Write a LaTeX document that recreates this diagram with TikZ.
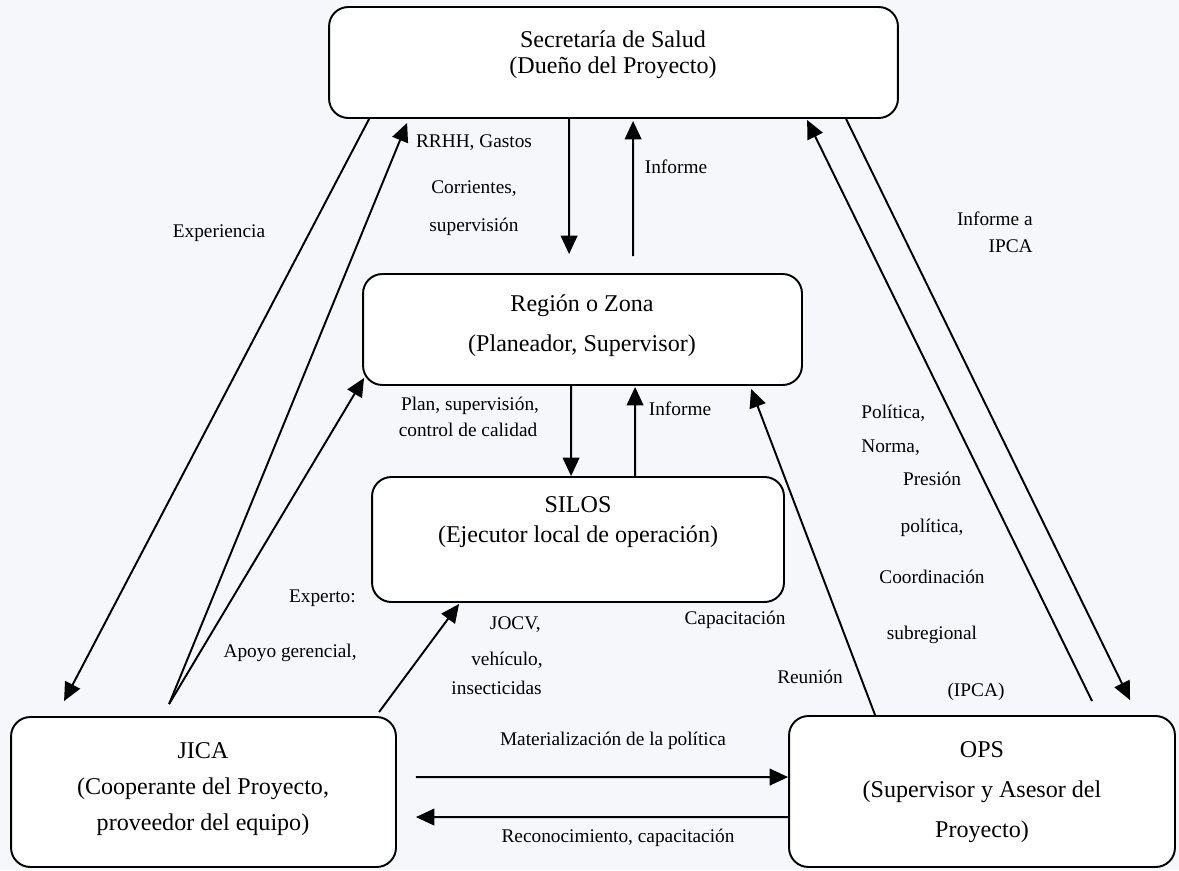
\documentclass[tikz,border=0pt]{standalone}
\usepackage{fontspec}
\setmainfont{Liberation Serif}
\usetikzlibrary{arrows.meta,calc}
\definecolor{bgcol}{RGB}{245,247,251}

\begin{document}
\begin{tikzpicture} [x = 0.02cm, y = -0.02cm,
  box/.style = {draw, fill = white, line width = 1.1pt, rounded corners = 11pt},
  boxtext/.style = {align = center, font = \fontsize{13.7}{#1}\selectfont},
  boxtext/.default = 16pt,
  lbl/.style = {font = \fontsize{11}{13}\selectfont, inner sep = 0pt},
  flow/.style = {-{Triangle[length = 10.5pt, width = 9.5pt]}, line width = 1.1pt}]
\useasboundingbox (0, 0) rectangle (1179, 870);
\fill[bgcol] (0, 0) rectangle (1179, 870);
\node[box, minimum width = 11.38cm, minimum height = 2.22cm] (sec) at (613.5, 62.5){};
\node[box, minimum width = 8.78cm, minimum height = 2.22cm] (reg) at (582.5, 329.5){};
\node[box, minimum width = 8.24cm, minimum height = 2.5cm] (silos) at (578, 539.5){};
\node[box, minimum width = 7.7cm, minimum height = 3.0cm] (jica) at (203.5, 792){};
\node[box, minimum width = 7.72cm, minimum height = 3.02cm] (ops) at (982, 791.5){};
\node[boxtext = 14.7pt] (sectxt) at (613, 55){Secretaría de Salud\\(Dueño del Proyecto)};
\node[boxtext = 22.7pt] (regtxt) at (582, 326){Región o Zona\\(Planeador, Supervisor)};
\node[boxtext = 17pt] (silostxt) at (578, 522){SILOS\\(Ejecutor local de operación)};
\node[boxtext = 20.7pt] (jicatxt) at (203, 789){JICA\\(Cooperante del Proyecto,\\proveedor del equipo)};
\node[boxtext = 22.7pt] (opstxt) at (982, 792){OPS\\(Supervisor y Asesor del\\Proyecto)};
\draw[flow] ($(sec.south west) + (41, 0)$) -- ($(jica.north west) + (54, -15)$);
\draw[flow] ($(jica.north west) + (159, -12)$) -- ($(sec.south west) + (79, 4)$);
\draw[flow] ($(jica.north west) + (159, -12)$) -- ($(reg.south west) + (2, -8)$);
\draw[flow] ($(jica.north west) + (369, -4)$) -- ($(silos.south west) + (88, 1)$);
\draw[flow] ($(sec.south west) + (241, 0)$) -- ($(reg.north west) + (207, -19)$);
\draw[flow] ($(reg.north west) + (271, -17)$) -- ($(sec.south west) + (305, 2)$);
\draw[flow] ($(reg.south west) + (209, 0)$) -- ($(silos.north west) + (200, 0)$);
\draw[flow] ($(silos.north west) + (264, 0)$) -- ($(reg.south west) + (273, 1)$);
\draw[flow] ($(ops.north west) + (87, 0)$) -- ($(reg.south west) + (389, 3)$);
\draw[flow] ($(sec.south west) + (518, 0)$) -- ($(ops.north west) + (342, -15)$);
\draw[flow] ($(ops.north west) + (304, -14)$) -- ($(sec.south west) + (479, 1)$);
\draw[flow] ($(jica.north east) + (19, 61)$) -- ($(ops.north west) + (0, 62)$);
\draw[flow] ($(ops.north west) + (0, 102)$) -- ($(jica.north east) + (19, 101)$);
\node[lbl] (lexp) at (219, 233){Experiencia};
\node[lbl] (lrr1) at (474, 143){RRHH, Gastos};
\node[lbl] (lrr2) at (474, 189){Corrientes,};
\node[lbl] (lrr3) at (474, 227){supervisión};
\node[lbl] (linf1) at (676, 167){Informe};
\node[lbl] (lpl1) at (470, 406){Plan, supervisión,};
\node[lbl] (lpl2) at (468, 430){control de calidad};
\node[lbl] (linf2) at (680, 409){Informe};
\node[lbl, anchor = east] (lexpt) at (356, 598){Experto:};
\node[lbl, anchor = east] (lapo) at (357, 653){Apoyo gerencial,};
\node[lbl, anchor = east] (ljo1) at (541, 625){JOCV,};
\node[lbl, anchor = east] (ljo2) at (543, 660){vehículo,};
\node[lbl, anchor = east] (ljo3) at (542, 688){insecticidas};
\node[lbl] (lcap) at (735, 620){Capacitación};
\node[lbl] (lreu) at (810, 677){Reunión};
\node[lbl, anchor = west] (lpo1) at (861, 413){Política,};
\node[lbl, anchor = west] (lpo2) at (861, 448){Norma,};
\node[lbl] (lpo3) at (932, 479){Presión};
\node[lbl] (lpo4) at (932, 528){política,};
\node[lbl] (lpo5) at (932, 577){Coordinación};
\node[lbl] (lpo6) at (932, 635){subregional};
\node[lbl] (lpo7) at (976, 692){(IPCA)};
\node[lbl, anchor = east] (lia1) at (1033, 219){Informe a};
\node[lbl, anchor = east] (lia2) at (1033, 246){IPCA};
\node[lbl] (lmat) at (613, 741){Materialización de la política};
\node[lbl] (lrec) at (618, 838){Reconocimiento, capacitación};
\end{tikzpicture}
\end{document}
